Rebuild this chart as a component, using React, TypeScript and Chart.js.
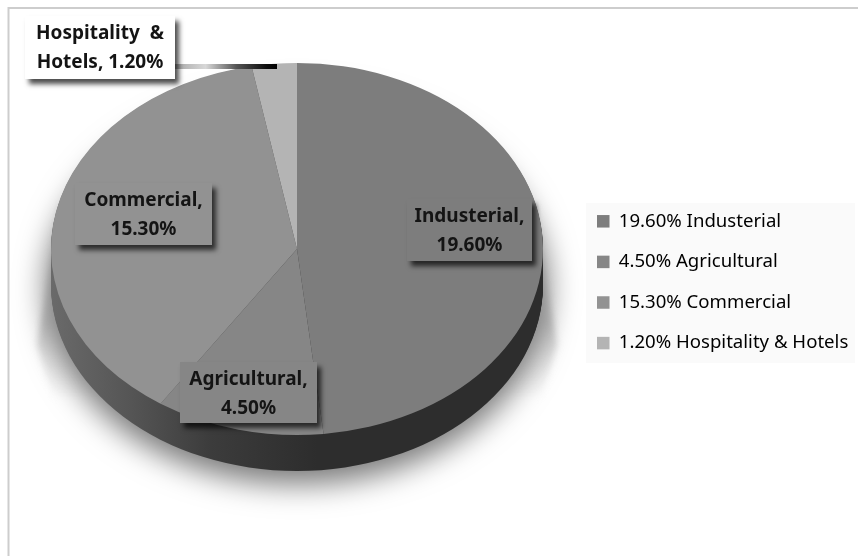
import React, { useEffect, useRef } from "react";
import { Chart, registerables } from "chart.js";

Chart.register(...registerables);

const categories = ["Industerial", "Agricultural", "Commercial", "Hospitality & Hotels"];
const shares = [19.6, 4.5, 15.3, 1.2];
const sliceColors = ["#7d7d7d", "#868686", "#929292", "#b4b4b4"];
const labelLines = [
  ["Industerial,", "19.60%"],
  ["Agricultural,", "4.50%"],
  ["Commercial,", "15.30%"],
  ["Hospitality  &", "Hotels, 1.20%"],
];
const labelBoxes = [
  { x: 407, y: 199, w: 125, h: 62, fill: "#7d7d7d" },
  { x: 180, y: 362, w: 137, h: 61, fill: "#868686" },
  { x: 75, y: 183, w: 137, h: 62, fill: "#929292" },
  { x: 25, y: 16, w: 150, h: 63, fill: "#ffffff" },
];

const PIE = { cx: 297, cy: 249, rx: 246, ry: 186, depth: 36 };
const FONT = '"Noto Sans", sans-serif';

const pie3d = {
  id: "pie3d",
  beforeDraw(chart: any) {
    const { ctx, width } = chart;
    ctx.save();
    ctx.fillStyle = "#ffffff";
    ctx.fillRect(0, 0, width, 556);
    ctx.strokeStyle = "#cdcdcd";
    ctx.lineWidth = 2;
    ctx.beginPath();
    ctx.moveTo(8.5, 556);
    ctx.lineTo(8.5, 8);
    ctx.lineTo(858, 8);
    ctx.stroke();
    ctx.fillStyle = "#fafafa";
    ctx.fillRect(586, 203, 269, 160);
    ctx.restore();
    chart.legend.left = 597 - 22;
    chart.legend.top = 190;
    chart.legend.bottom = 556;
    chart.legend.right = 858;
  },
  beforeDatasetsDraw(chart: any) {
    const { ctx } = chart;
    const arcs = chart.getDatasetMeta(0).data;
    const a0 = arcs[0];
    const r = a0.outerRadius;
    const sx = PIE.rx / r;
    const sy = PIE.ry / r;
    const dpr = chart.currentDevicePixelRatio || 1;

    // fading wedge of shadow rising behind the rim on both sides
    const wedge = ctx.createLinearGradient(0, 205, 0, 400);
    wedge.addColorStop(0, "rgba(205,205,205,0.5)");
    wedge.addColorStop(0.6, "rgba(200,200,200,1)");
    wedge.addColorStop(1, "rgba(215,215,215,0)");
    ctx.save();
    ctx.filter = "blur(3px)";
    ctx.fillStyle = wedge;
    ctx.beginPath();
    ctx.moveTo(60, 205);
    ctx.lineTo(534, 205);
    ctx.lineTo(557, 345);
    ctx.lineTo(540, 400);
    ctx.lineTo(54, 400);
    ctx.lineTo(37, 345);
    ctx.closePath();
    ctx.fill();
    ctx.restore();

    // soft cast shadow: only the blurred shadow of an off-canvas shape lands on the page
    const OFF = 2000;
    ctx.save();
    ctx.shadowColor = "rgba(120,120,120,1)";
    ctx.shadowBlur = 30 * dpr;
    ctx.shadowOffsetX = OFF * dpr;
    ctx.fillStyle = "#000000";
    ctx.beginPath();
    ctx.ellipse(PIE.cx - OFF, PIE.cy + 40, PIE.rx + 5, PIE.ry + 9, 0, 0, Math.PI * 2);
    ctx.fill();
    ctx.restore();

    const sideGrad = ctx.createLinearGradient(PIE.cx - PIE.rx, 0, PIE.cx + 20, 0);
    sideGrad.addColorStop(0, "#6a6a6a");
    sideGrad.addColorStop(0.3, "#555555");
    sideGrad.addColorStop(0.6, "#3c3c3c");
    sideGrad.addColorStop(1, "#2d2d2d");
    ctx.save();
    ctx.fillStyle = sideGrad;
    for (let d = PIE.depth; d >= 1; d--) {
      ctx.beginPath();
      ctx.ellipse(PIE.cx, PIE.cy + d, PIE.rx, PIE.ry, 0, 0, Math.PI * 2);
      ctx.fill();
    }
    ctx.restore();

    ctx.save();
    ctx.translate(PIE.cx, PIE.cy);
    ctx.scale(sx, sy);
    ctx.translate(-a0.x, -a0.y);
  },
  afterDatasetsDraw(chart: any) {
    const { ctx } = chart;
    ctx.restore();

    // leader line for the small slice
    const g = ctx.createLinearGradient(175, 0, 277, 0);
    g.addColorStop(0, "#a8a8a8");
    g.addColorStop(0.3, "#d8d8d8");
    g.addColorStop(0.6, "#555555");
    g.addColorStop(0.9, "#0c0c0c");
    g.addColorStop(1, "#000000");
    ctx.save();
    ctx.fillStyle = g;
    ctx.fillRect(175, 64, 102, 5);
    ctx.restore();

    labelBoxes.forEach((b, i) => {
      ctx.save();
      ctx.shadowColor = "rgba(0,0,0,0.7)";
      ctx.shadowBlur = 5;
      ctx.shadowOffsetX = 4;
      ctx.shadowOffsetY = 5;
      ctx.fillStyle = b.fill;
      ctx.fillRect(b.x, b.y, b.w, b.h);
      ctx.restore();
      ctx.save();
      ctx.fillStyle = "#141414";
      ctx.font = `700 19px ${FONT}`;
      ctx.textAlign = "center";
      ctx.textBaseline = "middle";
      const lines = labelLines[i];
      ctx.fillText(lines[0], b.x + b.w / 2, b.y + 17.5);
      ctx.fillText(lines[1], b.x + b.w / 2, b.y + 46.5);
      ctx.restore();
    });
  },
};

export default function App() {
  const ref = useRef<HTMLCanvasElement | null>(null);
  useEffect(() => {
    document.body.style.margin = "0";
    document.body.style.background = "#ffffff";
    const chart = new Chart(ref.current as HTMLCanvasElement, {
      type: "pie",
      data: {
        labels: categories,
        datasets: [
          {
            data: shares,
            backgroundColor: sliceColors,
            borderWidth: 0,
            clip: false,
          } as any,
        ],
      },
      options: {
        responsive: false,
        animation: false,
        layout: { padding: { left: 10, right: 0, top: 20, bottom: 20 } },
        plugins: {
          tooltip: { enabled: false },
          legend: {
            position: "right",
            align: "start",
            labels: {
              boxWidth: 12.5,
              boxHeight: 12.5,
              padding: 22,
              color: "#4f4f4f",
              font: { family: "Noto Sans", size: 18.6 },
              generateLabels: () =>
                categories.map((c, i) => ({
                  text: `${shares[i].toFixed(2)}% ${c}`,
                  fillStyle: sliceColors[i],
                  strokeStyle: sliceColors[i],
                  lineWidth: 0,
                  index: i,
                })),
            },
          },
        },
      },
      plugins: [pie3d],
    });
    return () => chart.destroy();
  }, []);
  return (
    <canvas
      ref={ref}
      width={858}
      height={556}
      style={{ display: "block", filter: "blur(0.5px)" }}
    />
  );
}
